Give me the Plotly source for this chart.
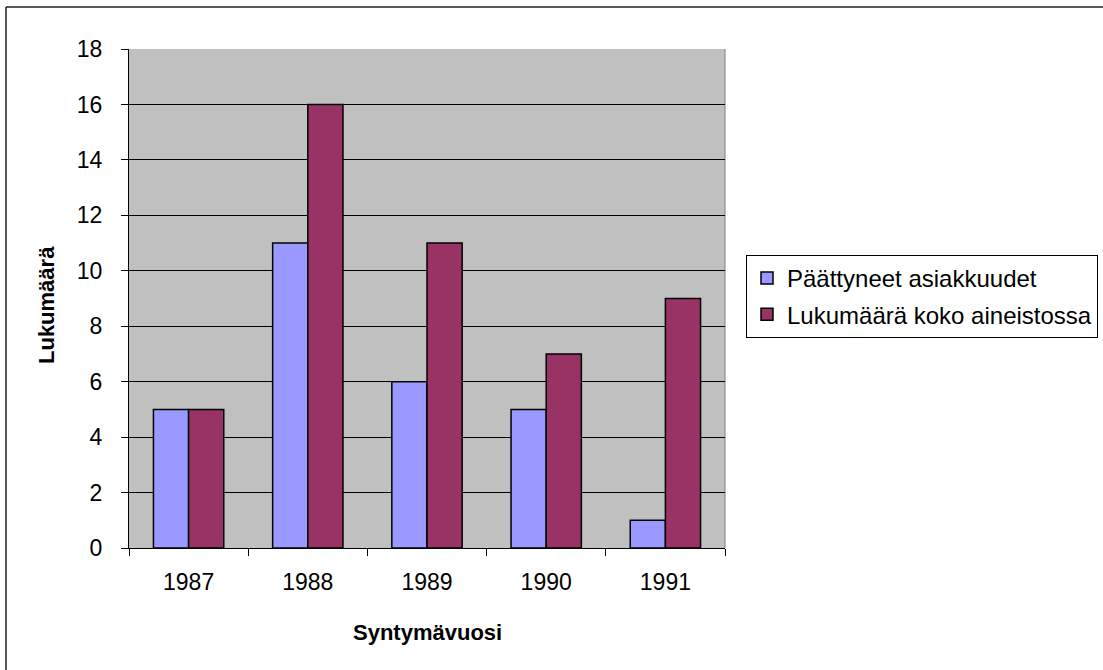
import plotly.graph_objects as go

years = ["1987", "1988", "1989", "1990", "1991"]
paattyneet = [5, 11, 6, 5, 1]
koko_aineisto = [5, 16, 11, 7, 9]
series_names = ["Päättyneet asiakkuudet", "Lukumäärä koko aineistossa"]
y_ticks = [0, 2, 4, 6, 8, 10, 12, 14, 16, 18]

FONT = "Liberation Sans, Arial, sans-serif"

# plot area in page pixels
L, R, T, B = 129, 725, 49, 548
W, H = 1103, 670
pw, ph = R - L, B - T

def px_x(px):
    return (px - L) / pw

def px_y(py):
    return (B - py) / ph

fig = go.Figure()
fig.add_trace(go.Bar(x=years, y=paattyneet, name=series_names[0], legendgroup="a",
                     marker=dict(color="#9999FF", line=dict(color="black", width=1.5))))
fig.add_trace(go.Bar(x=years, y=koko_aineisto, name=series_names[1], legendgroup="b",
                     marker=dict(color="#993366", line=dict(color="black", width=1.5))))

fig.update_layout(
    width=W, height=H,
    margin=dict(l=L, r=W - R, t=T, b=H - B, autoexpand=False),
    paper_bgcolor="white",
    plot_bgcolor="#C0C0C0",
    barmode="group",
    bargap=0.41,
    bargroupgap=0,
    font=dict(family=FONT, size=23, color="black"),
    legend=dict(
        x=px_x(746), y=px_y(255), xanchor="left", yanchor="top",
        bordercolor="black", borderwidth=1, bgcolor="white",
        font=dict(family=FONT, size=24, color="black"),
        tracegroupgap=2, itemwidth=30,
    ),
    showlegend=True,
)

fig.update_xaxes(
    type="category", tickson="boundaries", ticks="outside", ticklen=7,
    tickcolor="black", tickwidth=1, showline=True, linecolor="black", linewidth=1,
    showgrid=False, ticklabelstandoff=13,
    tickfont=dict(family=FONT, size=23, color="black"),
)
fig.update_yaxes(
    range=[0, 18], tickvals=y_ticks, ticks="outside", ticklen=7,
    tickcolor="black", tickwidth=1, showline=True, linecolor="black", linewidth=1,
    showgrid=True, gridcolor="black", gridwidth=1, zeroline=False,
    ticklabelstandoff=14,
    tickfont=dict(family=FONT, size=23, color="black"),
)

# plot area right border (gray)
fig.add_shape(type="line", xref="paper", yref="paper", x0=1, x1=1, y0=0, y1=1,
              line=dict(color="#808080", width=1), layer="between")

# outer chart border: only left and top edges visible in the image
border = dict(color="#222222", width=1.5)
fig.add_shape(type="line", xref="paper", yref="paper",
              x0=px_x(6), x1=px_x(6), y0=px_y(7), y1=px_y(720),
              line=border, layer="above")
fig.add_shape(type="line", xref="paper", yref="paper",
              x0=px_x(6), x1=px_x(1200), y0=px_y(7), y1=px_y(7),
              line=border, layer="above")

# axis titles
fig.add_annotation(text="<b>Lukumäärä</b>", xref="paper", yref="paper",
                   x=px_x(46), y=px_y(305), xanchor="center", yanchor="middle",
                   textangle=-90, showarrow=False,
                   font=dict(family=FONT, size=22, color="black"))
fig.add_annotation(text="<b>Syntymävuosi</b>", xref="paper", yref="paper",
                   x=px_x(427), y=px_y(632), xanchor="center", yanchor="middle",
                   showarrow=False,
                   font=dict(family=FONT, size=22, color="black"))

fig.write_html("out.html", config={"displayModeBar": False},
               post_script="document.body.style.margin='0';")
